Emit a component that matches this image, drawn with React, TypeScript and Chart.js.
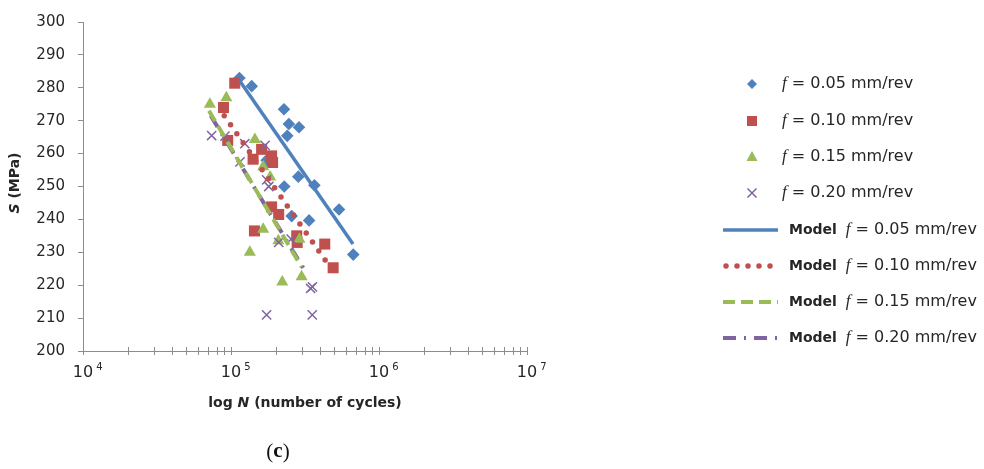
import React, { useEffect, useRef } from 'react';
import { Chart, registerables } from 'chart.js';

Chart.register(...registerables);

// ---- data ----
const FEEDS = ['0.05', '0.10', '0.15', '0.20'];

const BLUE_N = [1.14e5, 1.38e5, 2.28e5, 2.46e5, 2.88e5, 2.4e5, 1.74e5, 2.85e5, 2.29e5, 3.66e5, 5.37e5, 3.37e5, 2.57e5, 6.7e5];
const BLUE_S = [283, 280.5, 273.5, 269, 268, 265.4, 258, 253, 250, 250.4, 243, 239.7, 241, 229.3];

const RED_N = [1.06e5, 8.9e4, 9.5e4, 1.61e5, 1.41e5, 1.88e5, 1.91e5, 1.88e5, 2.1e5, 1.44e5, 2.78e5, 2.8e5, 4.3e5, 4.9e5];
const RED_S = [281.4, 274, 264, 261.3, 258.3, 259.3, 257.3, 243.8, 241.5, 236.5, 235, 233, 232.5, 225.3];

const GREEN_N = [7.2e4, 9.3e4, 1.45e5, 1.65e5, 1.84e5, 1.65e5, 1.34e5, 2.09e5, 2.9e5, 2.22e5, 3.0e5];
const GREEN_S = [275, 277, 264.3, 256, 252.9, 237, 230, 233.5, 234, 221, 222.6];

const PURPLE_N = [7.4e4, 9.1e4, 1.15e5, 1.24e5, 1.7e5, 1.74e5, 1.8e5, 2.1e5, 2.55e5, 3.45e5, 3.55e5, 1.74e5, 3.54e5];
const PURPLE_S = [265.5, 265.3, 257.5, 263, 262.5, 252, 250, 233, 234, 219, 219.5, 211, 211];

const MODEL_05_N = [1.15e5, 6.67e5];
const MODEL_05_S = [282, 232.5];
const MODEL_10_N = [9.0e4, 4.43e5];
const MODEL_10_S = [271.5, 227];
const MODEL_15_N = [7.1e4, 3.0e5];
const MODEL_15_S = [273, 225.5];
const MODEL_20_N = [7.3e4, 3.24e5];
const MODEL_20_S = [271.5, 223.6];

const X_MIN = 1e4;
const X_MAX = 1e7;
const X_DECADES = [1e4, 1e5, 1e6, 1e7];
const X_EXPONENTS = ['4', '5', '6', '7'];
const X_MINOR_MULT = [2, 3, 4, 5, 6, 7, 8, 9];
const Y_MIN = 200;
const Y_MAX = 300;
const Y_STEP = 10;

const X_TITLE = ['log ', 'N', ' (number of cycles)'];
const Y_TITLE = ['S', ' (MPa)'];
const PANEL_LABEL = ['(', 'c', ')'];

// ---- styles ----
const BLUE = '#4F81BD';
const RED = '#C0504D';
const GREEN = '#9BBB59';
const PURPLE = '#8064A2';
const AXIS = '#8C8C8C';
const TEXT = '#262626';
const SANS = '"DejaVu Sans", sans-serif';
const SERIF = '"Liberation Serif", "DejaVu Serif", serif';

const LINE_DASHES: number[][] = [[], [0, 11], [12, 6], [13, 8, 2, 8]];
const LINE_WIDTHS = [3.5, 5.5, 4, 4];

const pts = (xs: number[], ys: number[]) => xs.map((x, i) => ({ x, y: ys[i] }));

function buildXTicks() {
  const out: number[] = [];
  X_DECADES.forEach((d, i) => {
    out.push(d);
    if (i < X_DECADES.length - 1) X_MINOR_MULT.forEach((m) => out.push(d * m));
  });
  return out;
}

function drawMarker(ctx: CanvasRenderingContext2D, kind: string, x: number, y: number, color: string) {
  ctx.save();
  ctx.fillStyle = color;
  ctx.strokeStyle = color;
  ctx.beginPath();
  if (kind === 'diamond') {
    const r = 5;
    ctx.moveTo(x - r, y); ctx.lineTo(x, y - r); ctx.lineTo(x + r, y); ctx.lineTo(x, y + r); ctx.closePath(); ctx.fill();
  } else if (kind === 'square') {
    ctx.rect(x - 5, y - 5, 10, 10); ctx.fill();
  } else if (kind === 'triangle') {
    ctx.moveTo(x, y - 6); ctx.lineTo(x + 5.5, y + 4); ctx.lineTo(x - 5.5, y + 4); ctx.closePath(); ctx.fill();
  } else {
    ctx.lineWidth = 1.5;
    ctx.moveTo(x - 4.5, y - 4.5); ctx.lineTo(x + 4.5, y + 4.5);
    ctx.moveTo(x + 4.5, y - 4.5); ctx.lineTo(x - 4.5, y + 4.5);
    ctx.stroke();
  }
  ctx.restore();
}

function drawRuns(ctx: CanvasRenderingContext2D, runs: [string, string][], x: number, y: number, align: 'left' | 'center') {
  let total = 0;
  runs.forEach(([t, f]) => { ctx.font = f; total += ctx.measureText(t).width; });
  let cx = align === 'center' ? x - total / 2 : x;
  ctx.textAlign = 'left';
  runs.forEach(([t, f]) => { ctx.font = f; ctx.fillText(t, cx, y); cx += ctx.measureText(t).width; });
}

const overlayPlugin = {
  id: 'overlay',
  afterDraw(chart: any) {
    const ctx: CanvasRenderingContext2D = chart.ctx;
    const xs = chart.scales.x;
    const area = chart.chartArea;
    const axisY = area.bottom;
    ctx.save();
    // x tick marks crossing the axis
    ctx.strokeStyle = AXIS;
    ctx.lineWidth = 1;
    xs.ticks.forEach((t: any) => {
      const px = Math.round(xs.getPixelForValue(t.value)) + 0.5;
      ctx.beginPath();
      ctx.moveTo(px, axisY - 4);
      ctx.lineTo(px, axisY + 4);
      ctx.stroke();
    });
    // x tick labels 10^k
    ctx.fillStyle = TEXT;
    ctx.textBaseline = 'middle';
    X_DECADES.forEach((v, i) => {
      const px = xs.getPixelForValue(v);
      ctx.font = `16px ${SANS}`;
      ctx.textAlign = 'center';
      const w = ctx.measureText('10').width;
      ctx.fillText('10', px, axisY + 22);
      ctx.font = `10px ${SANS}`;
      ctx.textAlign = 'left';
      ctx.fillText(X_EXPONENTS[i], px + w / 2 + 3, axisY + 16);
    });
    // x title
    ctx.fillStyle = TEXT;
    ctx.textBaseline = 'middle';
    drawRuns(ctx, [
      [X_TITLE[0], `bold 14px ${SANS}`],
      [X_TITLE[1], `italic bold 14px ${SANS}`],
      [X_TITLE[2], `bold 14px ${SANS}`],
    ], 305, 403, 'center');
    // y title
    ctx.save();
    ctx.translate(15, 183);
    ctx.rotate(-Math.PI / 2);
    drawRuns(ctx, [
      [Y_TITLE[0], `italic bold 14px ${SANS}`],
      [Y_TITLE[1], `bold 14px ${SANS}`],
    ], 0, 0, 'center');
    ctx.restore();
    // panel label
    ctx.fillStyle = '#111';
    drawRuns(ctx, [
      [PANEL_LABEL[0], `21px ${SERIF}`],
      [PANEL_LABEL[1], `bold 21px ${SERIF}`],
      [PANEL_LABEL[2], `21px ${SERIF}`],
    ], 278, 452, 'center');

    // legend
    const markerKinds = ['diamond', 'square', 'triangle', 'cross'];
    const colors = [BLUE, RED, GREEN, PURPLE];
    const markerRows = [84, 121, 157, 193];
    const modelRows = [230, 266, 302, 338];
    ctx.fillStyle = TEXT;
    FEEDS.forEach((f, i) => {
      drawMarker(ctx, markerKinds[i], 752, markerRows[i], colors[i]);
      drawRuns(ctx, [
        ['f', `italic 17px ${SERIF}`],
        [` = ${f} mm/rev`, `16px ${SANS}`],
      ], 782, markerRows[i], 'left');
    });
    FEEDS.forEach((f, i) => {
      const y = modelRows[i];
      ctx.save();
      ctx.strokeStyle = colors[i];
      ctx.lineWidth = LINE_WIDTHS[i];
      ctx.lineCap = i === 1 ? 'round' : 'butt';
      ctx.setLineDash(LINE_DASHES[i]);
      ctx.beginPath();
      ctx.moveTo(i === 1 ? 726 : 723, y);
      ctx.lineTo(778, y);
      ctx.stroke();
      ctx.restore();
      ctx.fillStyle = TEXT;
      drawRuns(ctx, [
        ['Model', `bold 14px ${SANS}`],
        ['  ', `14px ${SANS}`],
        ['f', `italic 17px ${SERIF}`],
        [` = ${f} mm/rev`, `16px ${SANS}`],
      ], 789, y, 'left');
    });
    ctx.restore();
  },
};

export default function App() {
  const ref = useRef<HTMLCanvasElement | null>(null);
  useEffect(() => {
    if (!ref.current) return;
    const xTicks = buildXTicks();
    const chart = new Chart(ref.current, {
      type: 'scatter',
      data: {
        datasets: [
          { label: 'Model f = 0.05 mm/rev', data: pts(MODEL_05_N, MODEL_05_S), showLine: true, borderColor: BLUE, borderWidth: LINE_WIDTHS[0], pointRadius: 0, order: 0 },
          { label: 'Model f = 0.10 mm/rev', data: pts(MODEL_10_N, MODEL_10_S), showLine: true, borderColor: RED, borderWidth: LINE_WIDTHS[1], borderDash: LINE_DASHES[1], borderCapStyle: 'round', pointRadius: 0, order: 1 },
          { label: 'Model f = 0.15 mm/rev', data: pts(MODEL_15_N, MODEL_15_S), showLine: true, borderColor: GREEN, borderWidth: LINE_WIDTHS[2], borderDash: LINE_DASHES[2], pointRadius: 0, order: 2 },
          { label: 'Model f = 0.20 mm/rev', data: pts(MODEL_20_N, MODEL_20_S), showLine: true, borderColor: PURPLE, borderWidth: LINE_WIDTHS[3], borderDash: LINE_DASHES[3], pointRadius: 0, order: 3 },
          { label: 'f = 0.20 mm/rev', data: pts(PURPLE_N, PURPLE_S), pointStyle: 'crossRot', pointRadius: 6.5, borderColor: PURPLE, backgroundColor: PURPLE, pointBorderWidth: 1.5, order: 4 },
          { label: 'f = 0.15 mm/rev', data: pts(GREEN_N, GREEN_S), pointStyle: 'triangle', pointRadius: 7, borderColor: GREEN, backgroundColor: GREEN, pointBorderWidth: 0, order: 5 },
          { label: 'f = 0.10 mm/rev', data: pts(RED_N, RED_S), pointStyle: 'rect', pointRadius: 7.8, borderColor: RED, backgroundColor: RED, pointBorderWidth: 0, order: 6 },
          { label: 'f = 0.05 mm/rev', data: pts(BLUE_N, BLUE_S), pointStyle: 'rectRot', pointRadius: 6.3, borderColor: BLUE, backgroundColor: BLUE, pointBorderWidth: 0, order: 7 },
        ],
      } as any,
      options: {
        animation: false,
        responsive: false,
        events: [],
        layout: { padding: { top: 15, right: 457, bottom: 0, left: 0 } },
        plugins: { legend: { display: false }, tooltip: { enabled: false } },
        scales: {
          x: {
            type: 'logarithmic',
            min: X_MIN,
            max: X_MAX,
            grid: { display: false },
            border: { display: true, color: AXIS, width: 1 },
            ticks: { display: false },
            afterBuildTicks: (scale: any) => { scale.ticks = xTicks.map((v) => ({ value: v })); },
            afterFit: (scale: any) => { scale.height = 118; },
          },
          y: {
            min: Y_MIN,
            max: Y_MAX,
            grid: { display: true, drawOnChartArea: false, drawTicks: true, tickLength: 5, color: AXIS },
            border: { display: true, color: AXIS, width: 1 },
            ticks: { stepSize: Y_STEP, padding: 13, color: TEXT, font: { family: SANS, size: 15 } },
            afterFit: (scale: any) => { scale.width = 83; },
          },
        },
      } as any,
      plugins: [overlayPlugin],
    });
    return () => chart.destroy();
  }, []);
  return (
    <div style={{ position: 'fixed', left: 0, top: 0, width: 984, height: 469, background: '#fff' }}>
      <canvas ref={ref} width={984} height={469} style={{ display: 'block' }} />
    </div>
  );
}
